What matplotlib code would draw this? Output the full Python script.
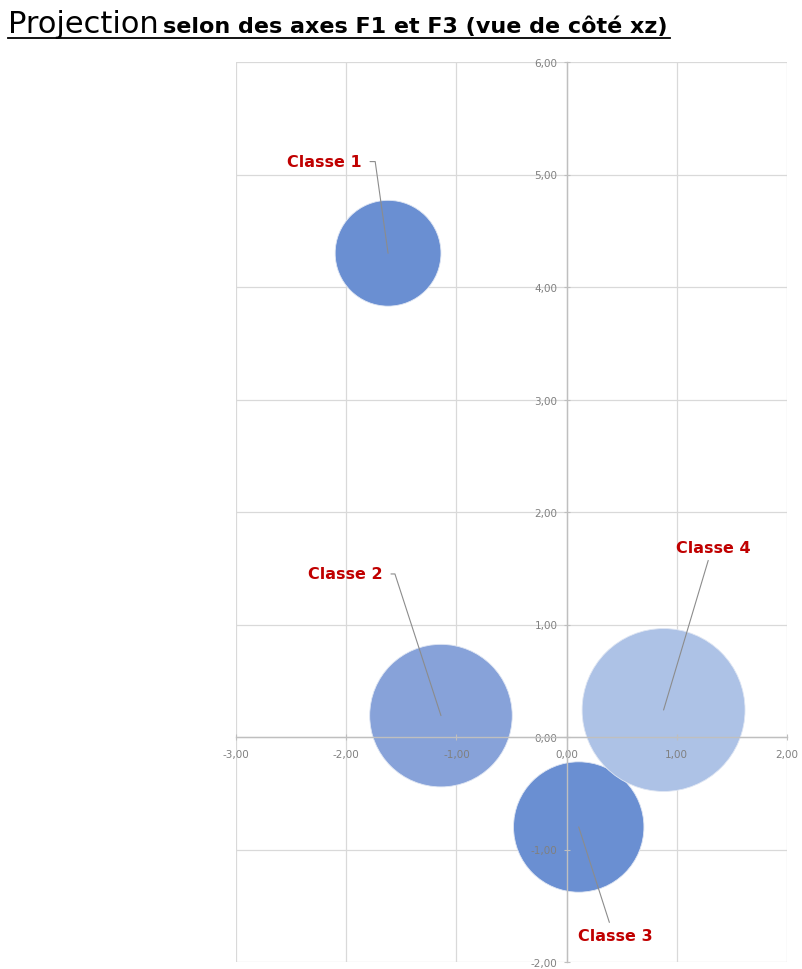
import numpy as np
import matplotlib
matplotlib.use("Agg")
import matplotlib.pyplot as plt
from matplotlib import font_manager
from matplotlib.lines import Line2D
from matplotlib.ticker import FuncFormatter

# =============================================================================
# DONNEES
# =============================================================================
classes = ["Classe 1", "Classe 2", "Classe 3", "Classe 4"]
f1 = [-1.62, -1.14, 0.11, 0.88]
f3 = [4.30, 0.19, -0.80, 0.24]
taille = [27, 49, 41, 64]
couleurs = ["#6a8fd2", "#87a2d9", "#6a8fd2", "#adc2e6"]

x_ticks = [-3, -2, -1, 0, 1, 2]
y_ticks = [-2, -1, 0, 1, 2, 3, 4, 5, 6]

# placement des etiquettes (points) et forme du trait de rappel
label_offsets = [(-19, 66), (-42, 102), (26, -78), (36, 117)]
label_ha = ["right", "right", "center", "center"]
label_relpos = [(1.0, 0.5), (1.0, 0.5), (0.45, 1.0), (0.45, 0.0)]
label_conn = ["angle,angleA=0,angleB=98,rad=0",
              "angle,angleA=0,angleB=108,rad=0",
              "arc3,rad=0",
              "arc3,rad=0"]
label_shrink = [4, 4, 2, 2]

# =============================================================================
# POLICES
# =============================================================================
installed = {f.name for f in font_manager.fontManager.ttflist}
narrow = "Liberation Sans Narrow" if "Liberation Sans Narrow" in installed else "DejaVu Sans"
plt.rcParams["font.family"] = [narrow, "DejaVu Sans"]

# =============================================================================
# FIGURE
# =============================================================================
fig = plt.figure(figsize=(8.03, 9.70), dpi=100)
ax = fig.add_axes([236 / 803, 7 / 970, 551 / 803, 900 / 970])

ax.set_xlim(-3, 2)
ax.set_ylim(-2, 6)

grid_c = "#d9d9d9"
for t in x_ticks:
    ax.axvline(t, color=grid_c, lw=0.9, zorder=0)
for t in y_ticks:
    ax.axhline(t, color=grid_c, lw=0.9, zorder=0)

sizes = np.array(taille) * 215
ax.scatter(f1, f3, s=sizes, c=couleurs, edgecolors="#dfe6f3", linewidths=0.6, zorder=1)

for spine in ["top", "right"]:
    ax.spines[spine].set_visible(False)
ax.spines["left"].set_position(("data", 0))
ax.spines["bottom"].set_position(("data", 0))
for spine in ["left", "bottom"]:
    ax.spines[spine].set_color("#bfbfbf")
    ax.spines[spine].set_linewidth(1.0)

ax.set_xticks(x_ticks)
ax.set_yticks(y_ticks)
fmt = FuncFormatter(lambda v, p: f"{v:.2f}".replace(".", ","))
ax.xaxis.set_major_formatter(fmt)
ax.yaxis.set_major_formatter(fmt)
ax.tick_params(axis="both", direction="inout", length=5, width=0.8, color="#bfbfbf",
               labelcolor="#808080", labelsize=7.5)
ax.tick_params(axis="y", pad=4)
ax.tick_params(axis="x", pad=6)

for i, name in enumerate(classes):
    ax.annotate(name, xy=(f1[i], f3[i]), xytext=label_offsets[i], textcoords="offset points",
                ha=label_ha[i], va="center", color="#c00000", fontsize=11.5, fontweight="bold",
                zorder=5,
                arrowprops=dict(arrowstyle="-", color="#8c8c8c", lw=0.8,
                                connectionstyle=label_conn[i],
                                relpos=label_relpos[i], shrinkA=label_shrink[i], shrinkB=0))

# titre souligne
fig.text(8 / 803, 1 - 33 / 970, "Projection", fontsize=22, color="black", ha="left", va="baseline")
fig.text(163 / 803, 1 - 33 / 970, "selon des axes F1 et F3 (vue de côté xz)", fontsize=16,
         fontweight="bold", color="black", ha="left", va="baseline")
fig.add_artist(Line2D([8 / 803, 670 / 803], [1 - 39 / 970, 1 - 39 / 970], color="black", lw=1.3))

fig.savefig("out.png", dpi=100)
